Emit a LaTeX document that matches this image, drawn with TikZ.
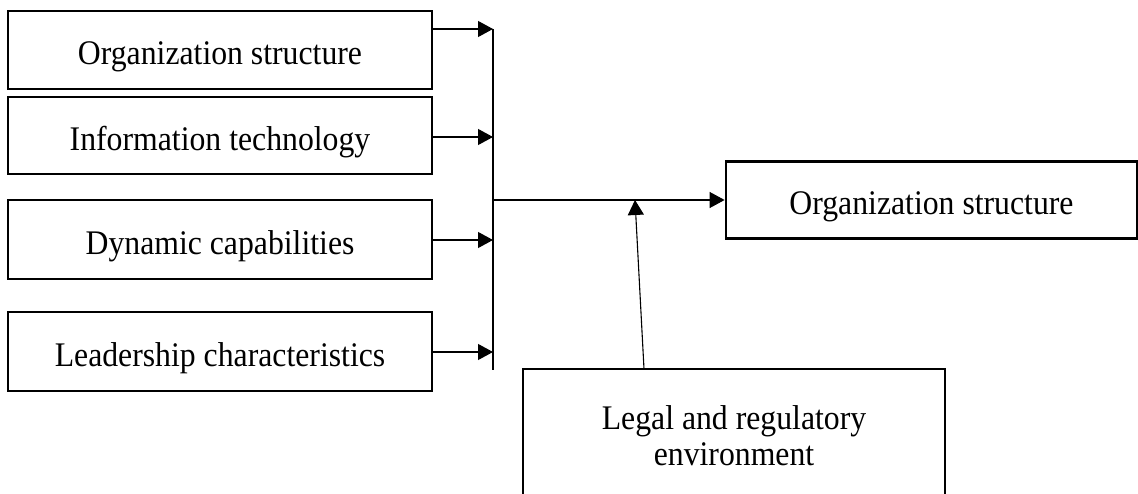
\documentclass[tikz,border=0pt]{standalone}
\usepackage{fontspec}
\setmainfont{Liberation Serif}[FakeStretch=0.92]
\usetikzlibrary{arrows.meta}
\begin{document}
\begin{tikzpicture}[x=1pt,y=-1pt,
  box/.style={draw=black,line width=2.8pt,minimum width=424pt,minimum height=78pt,inner sep=0pt,
    font=\fontsize{34.5}{36}\selectfont,text height=30pt,text depth=0pt},
  twoline/.style={draw=black,line width=2.8pt,inner sep=0pt,
    font=\fontsize{34.5}{36}\selectfont,align=center},
  conn/.style={draw=black,line width=1.1pt},
  arr/.style={conn,-{Triangle[length=15pt,width=16pt]}}]
\useasboundingbox (0,0) rectangle (1138,494);
\clip (0,0) rectangle (1138,494);
\node[box] (b1) at (220,50) {Organization structure};
\node[box,minimum height=77pt] (b2) at (220,135.5) {Information technology};
\node[box,minimum height=79pt] (b3) at (220,239.5) {Dynamic capabilities};
\node[box,minimum height=79pt] (b4) at (220,351.5) {Leadership characteristics};
\node[box,minimum width=411pt,minimum height=77pt] (out) at (931.5,200) {Organization structure};
\node[twoline,minimum width=422pt,minimum height=134pt] (legal) at (734,436) {Legal and regulatory\\environment};
\coordinate (bus1) at (493,29);
\coordinate (bus2) at (493,137);
\coordinate (bus3) at (493,240);
\coordinate (bus4) at (493,352);
\coordinate (busend) at (493,370);
\coordinate (busmid) at (493,200);
\coordinate (join) at (635,200);
\coordinate (lg) at (644,369);
\draw[arr] (b1.east |- bus1) -- (bus1);
\draw[arr] (b2.east |- bus2) -- (bus2);
\draw[arr] (b3.east |- bus3) -- (bus3);
\draw[arr] (b4.east |- bus4) -- (bus4);
\draw[conn] (bus1) -- (busend);
\draw[arr] (busmid) -- (out.west);
\draw[arr] (lg) -- (join);
\end{tikzpicture}
\end{document}
